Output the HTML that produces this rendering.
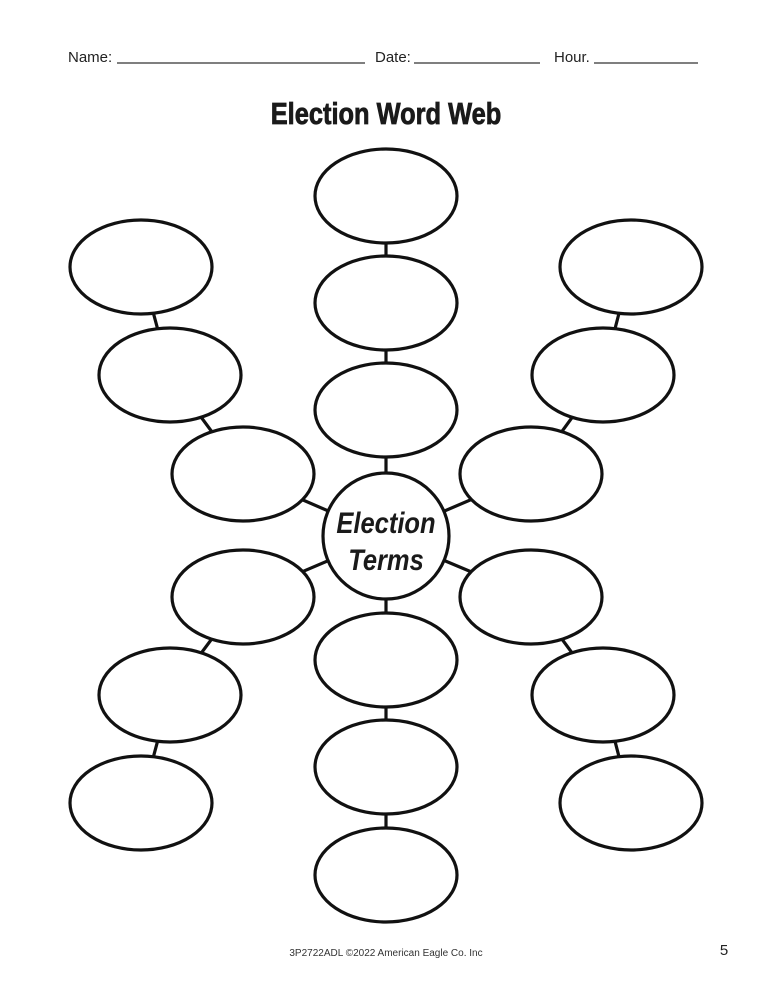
<!DOCTYPE html>
<html><head><style>
body{margin:0;background:#fff;width:773px;height:1000px;overflow:hidden;}
</style></head><body>
<svg width="773" height="1000" xmlns="http://www.w3.org/2000/svg" style="position:absolute;left:0;top:0">
<g font-family="Liberation Sans, sans-serif" fill="#222">
<text x="68" y="62" font-size="15">Name:</text>
<text x="375" y="62" font-size="15">Date:</text>
<text x="554" y="62" font-size="15">Hour.</text>
</g>
<g stroke="#333" stroke-width="1.3">
<line x1="117" y1="63" x2="365" y2="63"/>
<line x1="414" y1="63" x2="540" y2="63"/>
<line x1="594" y1="63" x2="698" y2="63"/>
</g>
<text x="0" y="124" font-family="Liberation Sans, sans-serif" font-weight="bold" font-size="31" text-anchor="middle" fill="#1a1a1a" stroke="#1a1a1a" stroke-width="0.8" transform="translate(386 0) scale(0.82 1)">Election Word Web</text>
<g stroke="#111" stroke-width="3.2" fill="none">
<line x1="386" y1="196" x2="386" y2="875"/>
<polyline points="386,536 243,474 170,375 141,267"/>
<polyline points="386,536 531,474 603,375 631,267"/>
<polyline points="386,536 243,597 170,695 141,803"/>
<polyline points="386,536 531,597 603,695 631,803"/>
</g>
<g stroke="#111" stroke-width="3.2" fill="#fff">
<ellipse cx="386" cy="196" rx="71" ry="47"/>
<ellipse cx="386" cy="303" rx="71" ry="47"/>
<ellipse cx="386" cy="410" rx="71" ry="47"/>
<ellipse cx="386" cy="660" rx="71" ry="47"/>
<ellipse cx="386" cy="767" rx="71" ry="47"/>
<ellipse cx="386" cy="875" rx="71" ry="47"/>
<ellipse cx="141" cy="267" rx="71" ry="47"/>
<ellipse cx="170" cy="375" rx="71" ry="47"/>
<ellipse cx="243" cy="474" rx="71" ry="47"/>
<ellipse cx="243" cy="597" rx="71" ry="47"/>
<ellipse cx="170" cy="695" rx="71" ry="47"/>
<ellipse cx="141" cy="803" rx="71" ry="47"/>
<ellipse cx="631" cy="267" rx="71" ry="47"/>
<ellipse cx="603" cy="375" rx="71" ry="47"/>
<ellipse cx="531" cy="474" rx="71" ry="47"/>
<ellipse cx="531" cy="597" rx="71" ry="47"/>
<ellipse cx="603" cy="695" rx="71" ry="47"/>
<ellipse cx="631" cy="803" rx="71" ry="47"/>
<circle cx="386" cy="536" r="63"/>
</g>
<g font-family="Liberation Sans, sans-serif" font-weight="bold" font-style="italic" font-size="30" fill="#1a1a1a" text-anchor="middle">
<text x="0" y="533" transform="translate(386 0) scale(0.85 1)">Election</text>
<text x="0" y="570" transform="translate(386 0) scale(0.85 1)">Terms</text>
</g>
<text x="386" y="956" font-family="Liberation Sans, sans-serif" font-size="10" text-anchor="middle" fill="#333">3P2722ADL ©2022 American Eagle Co. Inc</text>
<text x="724" y="955" font-family="Liberation Sans, sans-serif" font-size="15" text-anchor="middle" fill="#222">5</text>
</svg>
</body></html>
